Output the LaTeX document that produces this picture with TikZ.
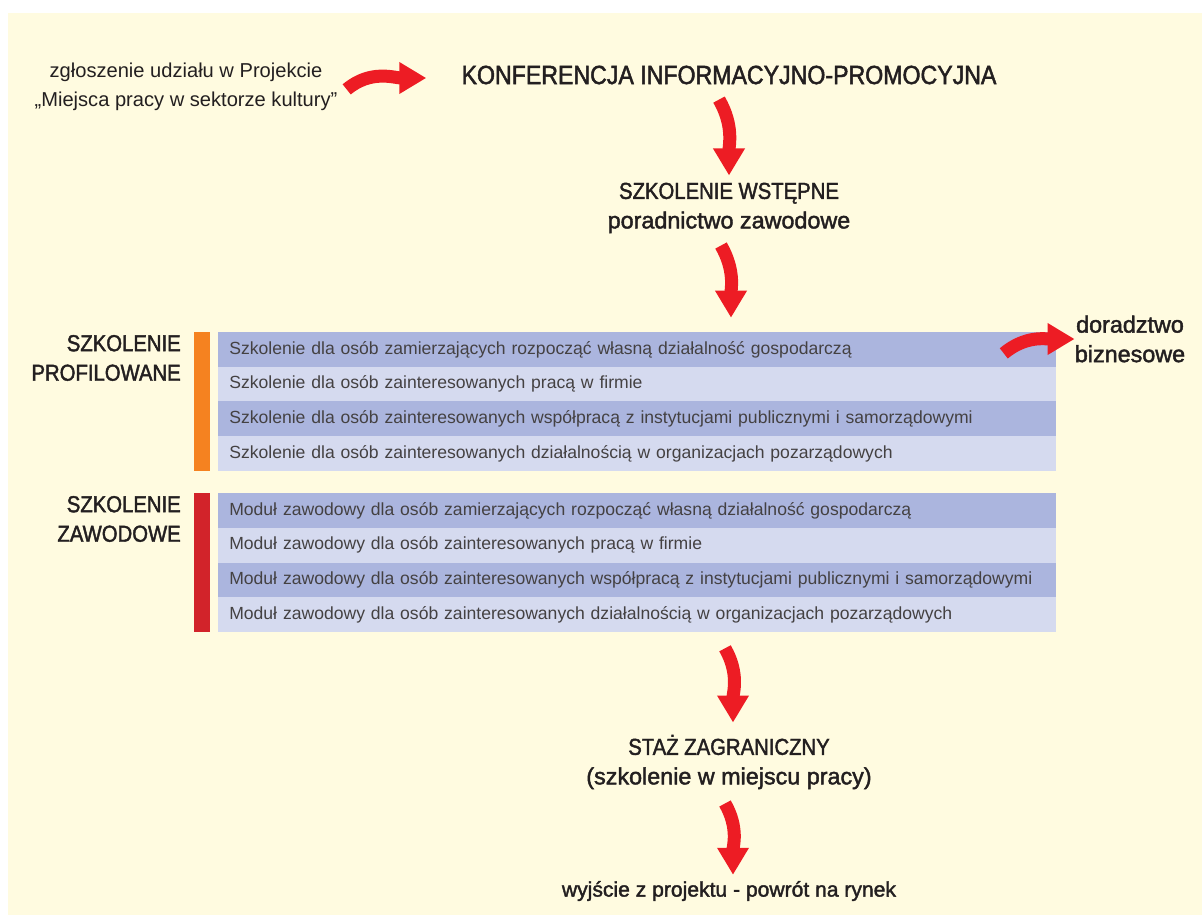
\documentclass[tikz,border=0pt]{standalone}
\usepackage{fontspec}
\setmainfont{Liberation Sans}
\newfontfamily\headfont{Liberation Sans}[FakeStretch=0.88,FakeBold=1.8]
\newfontfamily\lowfont{Liberation Sans}[FakeBold=1.8]
\usetikzlibrary{arrows.meta, positioning}
\definecolor{cream}{RGB}{255,251,224}
\definecolor{banddark}{RGB}{171,181,222}
\definecolor{bandlight}{RGB}{213,218,239}
\definecolor{profil}{RGB}{245,130,32}
\definecolor{zawod}{RGB}{210,35,42}
\definecolor{arrowred}{RGB}{237,28,36}
\definecolor{ink}{RGB}{35,31,32}
\newcommand{\lowline}[1]{{\lowfont\fontsize{16.6}{21}\selectfont #1}}

\begin{document}
\begin{tikzpicture}[
    x=0.025cm, y=-0.025cm,
    head/.style={inner sep=0pt, align=center, text=ink, font=\headfont\fontsize{16.4}{21}\selectfont},
    side/.style={head, anchor=east, align=right},
    band/.style={rectangle, anchor=west, inner xsep=0.275cm, inner ysep=0pt, text width=20.375cm, minimum height=0.869cm, align=left, text=ink!85, font=\fontsize{12.5}{14}\selectfont},
    bar/.style={rectangle, inner sep=0pt, minimum width=0.4cm},
    bigarr/.style={-{Triangle[width=0.75cm, length=0.675cm]}, line width=0.325cm, arrowred}
  ]

  % Background
  \useasboundingbox (0,0) rectangle (1202,915);
  \fill[cream] (8,13) rectangle (1202,915);

  % Top row
  \node[inner sep=0pt, align=center, text=ink, font=\fontsize{14.3}{20.6}\selectfont] (zgl) at (186,87) {zgłoszenie udziału w Projekcie\\„Miejsca pracy w sektorze kultury”};
  \node[head, font=\headfont\fontsize{18.7}{22}\selectfont] (konf) at (729,75) {KONFERENCJA INFORMACYJNO-PROMOCYJNA};
  \node[head] (wstep) at (729,208) {SZKOLENIE WSTĘPNE\\\lowline{poradnictwo zawodowe}};

  % Profiled training
  \foreach \i/\col/\txt in {%
    1/banddark/{Szkolenie dla osób zamierzających rozpocząć własną działalność gospodarczą},
    2/bandlight/{Szkolenie dla osób zainteresowanych pracą w firmie},
    3/banddark/{Szkolenie dla osób zainteresowanych współpracą z instytucjami publicznymi i samorządowymi},
    4/bandlight/{Szkolenie dla osób zainteresowanych działalnością w organizacjach pozarządowych}} {
    \node[band, fill=\col] (p\i) at (218, {332+(\i-0.5)*34.75}) {\txt};
  }

  % Vocational training
  \foreach \i/\col/\txt in {%
    1/banddark/{Moduł zawodowy dla osób zamierzających rozpocząć własną działalność gospodarczą},
    2/bandlight/{Moduł zawodowy dla osób zainteresowanych pracą w firmie},
    3/banddark/{Moduł zawodowy dla osób zainteresowanych współpracą z instytucjami publicznymi i samorządowymi},
    4/bandlight/{Moduł zawodowy dla osób zainteresowanych działalnością w organizacjach pozarządowych}} {
    \node[band, fill=\col] (m\i) at (218, {493+(\i-0.5)*34.75}) {\txt};
  }

  % Bars and side labels
  \node[bar, fill=profil, minimum height=3.475cm] (barprof) at (202, 401.5) {};
  \node[bar, fill=zawod, minimum height=3.475cm] (barzaw) at (202, 562.5) {};
  \node[side] (profl) at (181, 358) {SZKOLENIE\\PROFILOWANE};
  \node[side] (zawl) at (181, 519) {SZKOLENIE\\ZAWODOWE};

  \node[head] (doradz) at (1130, 339) {\lowline{doradztwo}\\\lowline{biznesowe}};

  % Bottom
  \node[head] (staz) at (729, 762) {STAŻ ZAGRANICZNY\\\lowline{(szkolenie w miejscu pracy)}};
  \node[head, font=\lowfont\fontsize{15}{18}\selectfont] (wyjscie) at (729, 891) {wyjście z projektu - powrót na rynek};

  % Arrows
  \draw[bigarr] ([xshift=0.225cm, yshift=-0.06cm]zgl.east) to[out=40, in=180] ([xshift=-0.875cm, yshift=-0.075cm]konf.west);
  \draw[bigarr] ([xshift=-0.25cm, yshift=-0.375cm]konf.south) to[out=-60, in=90] ([yshift=0.175cm]wstep.north);
  \draw[bigarr] ([xshift=-0.2cm, yshift=-0.3cm]wstep.south) to[out=-60, in=90] ([xshift=0.05cm, yshift=0.35cm]p1.north -| wstep.south);
  \draw[bigarr] ([xshift=-0.1cm, yshift=-0.4cm]m4.south -| staz.north) to[out=-60, in=90] ([xshift=0.1cm, yshift=0.3cm]staz.north);
  \draw[bigarr] ([xshift=-0.1cm, yshift=-0.35cm]staz.south) to[out=-60, in=90] ([xshift=0.1cm, yshift=0.15cm]wyjscie.north);
  \draw[bigarr] ([xshift=-1.3cm, yshift=-0.1cm]p1.east) to[out=40, in=180] (doradz.west);

\end{tikzpicture}
\end{document}
